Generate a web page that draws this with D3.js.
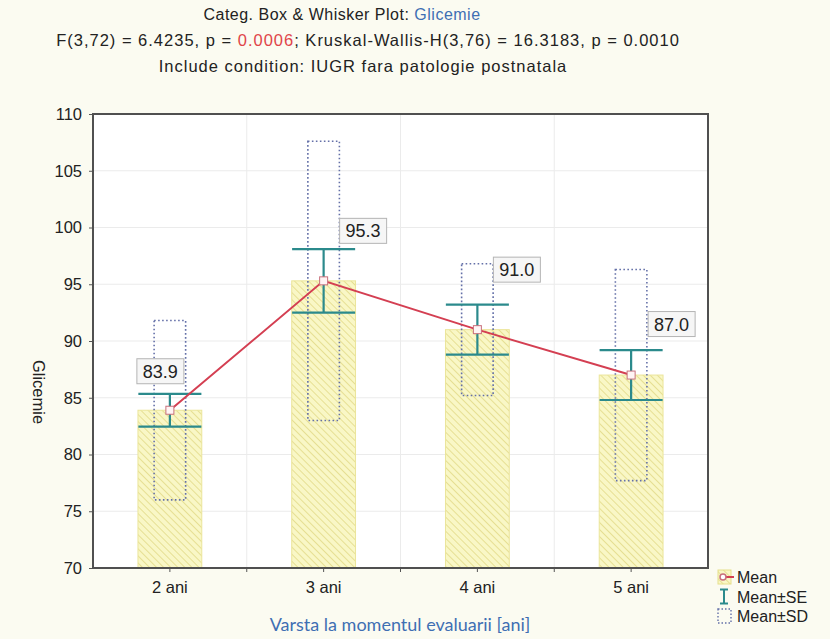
<!DOCTYPE html>
<html>
<head>
<meta charset="utf-8">
<script src="https://cdn.jsdelivr.net/npm/d3@7"></script>
<style>
  body { margin: 0; background: #fbfbf1; }
  svg { display: block; }
  text { font-family: "Liberation Sans", Arial, sans-serif; fill: #222; }
</style>
</head>
<body>
<svg width="830" height="639"></svg>
<script>
// Chart values
var categories = ["2 ani", "3 ani", "4 ani", "5 ani"];
var means = [83.9, 95.3, 91.0, 87.0];
var seValues = [1.45, 2.8, 2.2, 2.2];
var sdValues = [7.9, 12.3, 5.8, 9.3];
var yTicks = [70, 75, 80, 85, 90, 95, 100, 105, 110];
var legendLabels = ["Mean", "Mean\u00b1SE", "Mean\u00b1SD"];

var data = categories.map(function(c, i) {
    return {cat: c, mean: means[i], se: seValues[i], sd: sdValues[i]};
});

var svg = d3.select('svg');

// Plot frame
var frame = {l: 93, r: 708, t: 114, b: 568};

var xScale = d3.scaleBand()
    .domain(categories)
    .range([frame.l, frame.r]);
var yScale = d3.scaleLinear()
    .domain([70, 110])
    .range([frame.b, frame.t]);

var bw = xScale.bandwidth();

// hatch pattern for the bars
var defs = svg.append('defs');
var pat = defs.append('pattern')
    .attr('id', 'hatch')
    .attr('patternUnits', 'userSpaceOnUse')
    .attr('width', 5).attr('height', 5)
    .attr('patternTransform', 'rotate(45)');
pat.append('rect').attr('width', 5).attr('height', 5).attr('fill', '#f9f7c6');
pat.append('line').attr('x1', 0).attr('y1', 0).attr('x2', 5).attr('y2', 0)
    .attr('stroke', '#e2da86').attr('stroke-width', 1.6);

// plot background
svg.append('rect')
    .attr('x', frame.l).attr('y', frame.t)
    .attr('width', frame.r - frame.l).attr('height', frame.b - frame.t)
    .attr('fill', '#ffffff');

// grid lines
svg.append('g').selectAll('line')
    .data(yTicks.slice(1, -1))
    .enter().append('line')
    .attr('x1', frame.l).attr('x2', frame.r)
    .attr('y1', function(d) { return yScale(d); })
    .attr('y2', function(d) { return yScale(d); })
    .attr('stroke', '#ebebeb').attr('stroke-width', 1);
svg.append('g').selectAll('line')
    .data(categories.slice(1))
    .enter().append('line')
    .attr('x1', function(d) { return xScale(d); })
    .attr('x2', function(d) { return xScale(d); })
    .attr('y1', frame.t).attr('y2', frame.b)
    .attr('stroke', '#ebebeb').attr('stroke-width', 1);

// bars of means
var barW = bw * 0.415;
svg.append('g').selectAll('rect')
    .data(data)
    .enter().append('rect')
    .attr('x', function(d) { return xScale(d.cat) + bw / 2 - barW / 2; })
    .attr('y', function(d) { return yScale(d.mean); })
    .attr('width', barW)
    .attr('height', function(d) { return yScale(70) - yScale(d.mean); })
    .attr('fill', 'url(#hatch)')
    .attr('stroke', '#ebe59a').attr('stroke-width', 1);

// SD boxes
var sdW = bw * 0.205;
svg.append('g').selectAll('rect')
    .data(data)
    .enter().append('rect')
    .attr('x', function(d) { return xScale(d.cat) + bw / 2 - sdW / 2; })
    .attr('y', function(d) { return yScale(d.mean + d.sd); })
    .attr('width', sdW)
    .attr('height', function(d) { return yScale(d.mean - d.sd) - yScale(d.mean + d.sd); })
    .attr('fill', 'none')
    .attr('stroke', '#6470a8').attr('stroke-width', 1.6)
    .attr('stroke-dasharray', '1.6,2.4');

// SE whiskers
var capW = bw * 0.41;
var seG = svg.append('g').selectAll('g')
    .data(data)
    .enter().append('g')
    .attr('stroke', '#2b8a8c').attr('stroke-width', 2.2);
seG.append('line')
    .attr('x1', function(d) { return xScale(d.cat) + bw / 2; })
    .attr('x2', function(d) { return xScale(d.cat) + bw / 2; })
    .attr('y1', function(d) { return yScale(d.mean + d.se); })
    .attr('y2', function(d) { return yScale(d.mean - d.se); });
seG.append('line')
    .attr('x1', function(d) { return xScale(d.cat) + bw / 2 - capW / 2; })
    .attr('x2', function(d) { return xScale(d.cat) + bw / 2 + capW / 2; })
    .attr('y1', function(d) { return yScale(d.mean + d.se); })
    .attr('y2', function(d) { return yScale(d.mean + d.se); });
seG.append('line')
    .attr('x1', function(d) { return xScale(d.cat) + bw / 2 - capW / 2; })
    .attr('x2', function(d) { return xScale(d.cat) + bw / 2 + capW / 2; })
    .attr('y1', function(d) { return yScale(d.mean - d.se); })
    .attr('y2', function(d) { return yScale(d.mean - d.se); });

// mean line
var line = d3.line()
    .x(function(d) { return xScale(d.cat) + bw / 2; })
    .y(function(d) { return yScale(d.mean); });
svg.append('path')
    .datum(data)
    .attr('d', line)
    .attr('fill', 'none')
    .attr('stroke', '#d43f52').attr('stroke-width', 2);

svg.append('g').selectAll('rect')
    .data(data)
    .enter().append('rect')
    .attr('x', function(d) { return xScale(d.cat) + bw / 2 - 4; })
    .attr('y', function(d) { return yScale(d.mean) - 4; })
    .attr('width', 8).attr('height', 8)
    .attr('fill', '#fff4f4')
    .attr('stroke', '#c8707c').attr('stroke-width', 1);

// value labels (offsets from the mean point, in px)
var labelOffsets = [[-33, -39], [16, -50], [16, -60], [17, -51]];
var lab = svg.append('g').selectAll('g')
    .data(data)
    .enter().append('g')
    .attr('transform', function(d, i) {
        var x = xScale(d.cat) + bw / 2 + labelOffsets[i][0];
        var y = yScale(d.mean) + labelOffsets[i][1];
        return 'translate(' + [x, y] + ')';
    });
lab.append('rect')
    .attr('x', 0).attr('y', -12.5)
    .attr('width', 47).attr('height', 25)
    .attr('fill', '#f6f6f6')
    .attr('stroke', '#b4b4b4').attr('stroke-width', 1);
lab.append('text')
    .attr('x', 23.5).attr('y', 6.5)
    .attr('text-anchor', 'middle')
    .style('font-size', '18px')
    .text(function(d) { return d.mean.toFixed(1); });

// frame
svg.append('rect')
    .attr('x', frame.l).attr('y', frame.t)
    .attr('width', frame.r - frame.l).attr('height', frame.b - frame.t)
    .attr('fill', 'none')
    .attr('stroke', '#505050').attr('stroke-width', 2);

// axes
var yAxisG = svg.append('g')
    .attr('transform', 'translate(' + [frame.l - 1, 0] + ')')
    .call(d3.axisLeft(yScale).tickValues(yTicks).tickSize(3).tickPadding(7));
var xAxisG = svg.append('g')
    .attr('transform', 'translate(' + [0, frame.b + 1] + ')')
    .call(d3.axisBottom(xScale).tickSize(3).tickPadding(9));
[yAxisG, xAxisG].forEach(function(g) {
    g.select('.domain').remove();
    g.selectAll('.tick line').attr('stroke', '#555');
    g.selectAll('.tick text')
        .style('font-size', '16.5px')
        .style('font-family', '"Liberation Sans", Arial, sans-serif')
        .attr('fill', '#222');
});
// extra ticks on band boundaries
svg.append('g').selectAll('line')
    .data(categories.slice(1))
    .enter().append('line')
    .attr('x1', function(d) { return xScale(d); })
    .attr('x2', function(d) { return xScale(d); })
    .attr('y1', frame.b + 1).attr('y2', frame.b + 4)
    .attr('stroke', '#555');

// axis titles
svg.append('text')
    .attr('transform', 'translate(' + [33, 392] + ') rotate(90)')
    .attr('text-anchor', 'middle')
    .style('font-size', '16.5px')
    .text('Glicemie');
svg.append('text')
    .attr('x', 400).attr('y', 631)
    .attr('text-anchor', 'middle')
    .style('font-family', 'Lato, "Open Sans", sans-serif')
    .style('font-size', '18px')
    .style('fill', '#3f6fb3')
    .text('Varsta la momentul evaluarii [ani]');

// titles
var t1 = svg.append('text').attr('x', 342).attr('y', 20).attr('text-anchor', 'middle')
    .style('font-size', '16px').style('letter-spacing', '0.5px');
t1.append('tspan').text('Categ. Box & Whisker Plot: ');
t1.append('tspan').style('fill', '#3f6fb3').text('Glicemie');

var t2 = svg.append('text').attr('x', 368).attr('y', 46).attr('text-anchor', 'middle')
    .style('font-size', '16.5px').style('letter-spacing', '1px');
t2.append('tspan').text('F(3,72) = 6.4235, p = ');
t2.append('tspan').style('fill', '#e0454a').text('0.0006');
t2.append('tspan').text('; Kruskal-Wallis-H(3,76) = 16.3183, p = 0.0010');

svg.append('text').attr('x', 363).attr('y', 72).attr('text-anchor', 'middle')
    .style('font-size', '16.5px').style('letter-spacing', '1px')
    .text('Include condition: IUGR fara patologie postnatala');

// legend
var legend = svg.append('g').attr('transform', 'translate(716, 569)');
var legItems = legend.selectAll('g')
    .data(legendLabels)
    .enter().append('g')
    .attr('transform', function(d, i) { return 'translate(0,' + (i * 19.5) + ')'; });
legItems.append('text')
    .attr('x', 21).attr('y', 14)
    .style('font-size', '16px')
    .text(function(d) { return d; });
// Mean symbol
var m = legend.append('g');
m.append('rect').attr('x', 2).attr('y', 1).attr('width', 13).attr('height', 14)
    .attr('fill', 'url(#hatch)').attr('stroke', '#e6df8c');
m.append('line').attr('x1', 8).attr('x2', 18).attr('y1', 8).attr('y2', 8)
    .attr('stroke', '#d43f52').attr('stroke-width', 2);
m.append('circle').attr('cx', 7).attr('cy', 8).attr('r', 3)
    .attr('fill', '#fff').attr('stroke', '#c8707c').attr('stroke-width', 1.5);
// SE symbol
var s = legend.append('g').attr('transform', 'translate(0,19.5)')
    .attr('stroke', '#2b8a8c').attr('stroke-width', 2);
s.append('line').attr('x1', 8).attr('x2', 8).attr('y1', 1).attr('y2', 15);
s.append('line').attr('x1', 4).attr('x2', 12).attr('y1', 1).attr('y2', 1);
s.append('line').attr('x1', 4).attr('x2', 12).attr('y1', 15).attr('y2', 15);
// SD symbol
legend.append('rect').attr('x', 2).attr('y', 40).attr('width', 13).attr('height', 14)
    .attr('fill', 'none').attr('stroke', '#6470a8').attr('stroke-width', 1.4)
    .attr('stroke-dasharray', '1.5,2');
</script>
</body>
</html>
